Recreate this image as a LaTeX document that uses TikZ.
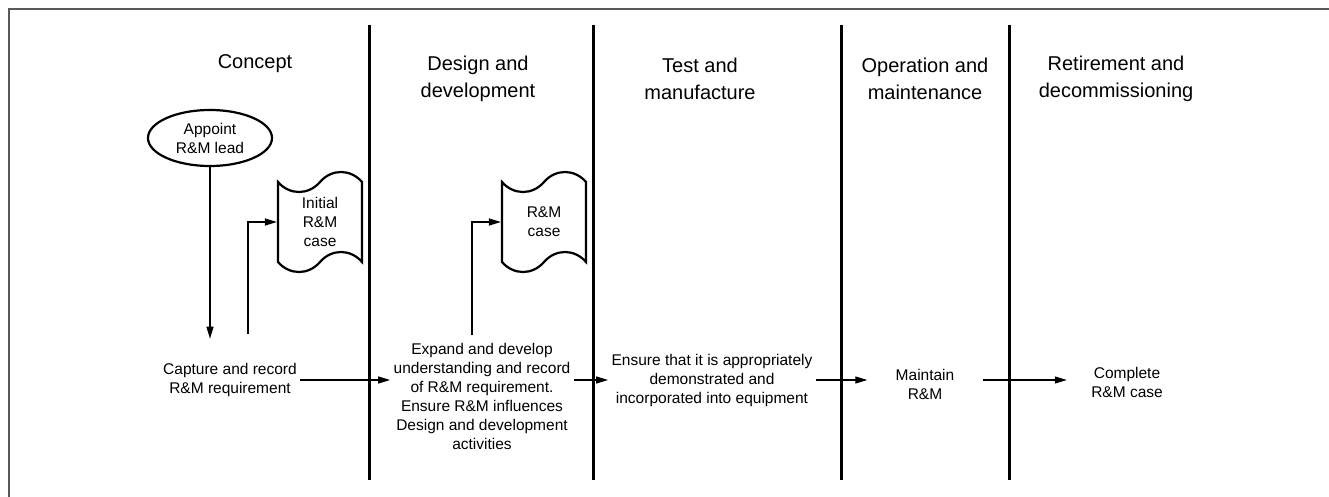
\documentclass[tikz,border=0pt]{standalone}
\usepackage{fontspec}
\setmainfont{Liberation Sans}
\usetikzlibrary{shapes.geometric,shapes.symbols,arrows.meta}

\begin{document}
\begin{tikzpicture}[x=1pt,y=-1pt]
        \tikzstyle{phase} = [align=center, font=\fontsize{20}{27}\selectfont]
        \tikzstyle{task} = [align=center, font=\fontsize{15.5}{19}\selectfont]
        \tikzstyle{doc} = [tape, draw=black, line width=2.2pt, minimum width=84pt, minimum height=100pt, tape bend height=20pt, align=center, font=\fontsize{15.5}{19}\selectfont]
        \tikzstyle{arrow} = [line width=1.3pt,-{Triangle[length=12pt,width=7pt]}]
        \tikzstyle{lane} = [line width=3pt]

                \useasboundingbox (0,0) rectangle (1329,497);
                % frame
                \draw[line width=2pt, black!65] (9,497) -- (9,9) -- (1329,9);

                % lanes
                \foreach \x in {369,593,841,1009}
                        \draw[lane] (\x,25) -- (\x,480);

                % phase headings
                \node (concept) [phase] at (255,64) {Concept};
                \node (design) [phase] at (478,78.5) {Design and\\development};
                \node (test) [phase] at (700,78.5) {Test and\\manufacture};
                \node (operation) [phase] at (925,78.5) {Operation and\\maintenance};
                \node (retire) [phase] at (1116,78.5) {Retirement and\\decommissioning};

                \node (lead) [ellipse, draw=black, line width=2.2pt, minimum width=124pt, minimum height=56pt, task] at (210,138) {Appoint\\R\&M lead};
                \node (initcase) [doc] at (320,222) {Initial\\R\&M\\case};
                \node (rmcase) [doc] at (544,222) {R\&M\\case};

                \node (capture) [task] at (230,380) {Capture and record\\R\&M requirement};
                \node (expand) [task] at (482,396) {Expand and develop\\understanding and record\\of R\&M requirement.\\Ensure R\&M influences\\Design and development\\activities};
                \node (ensure) [task] at (712,380) {Ensure that it is appropriately\\demonstrated and\\incorporated into equipment};
                \node (maintain) [task, minimum width=115pt] at (925,384) {Maintain\\R\&M};
                \node (complete) [task, minimum width=120pt] at (1127,382) {Complete\\R\&M case};

                \draw[arrow] (lead.south) -- ([yshift=21pt]lead.south |- capture.north);
                \draw[arrow] ([xshift=18pt,yshift=26pt]capture.north) |- (initcase.west);
                \draw[arrow] ([xshift=-10pt,yshift=4pt]expand.north) |- (rmcase.west);
                \draw[arrow] (capture.east) -- (capture.east -| expand.west);
                \draw[arrow] (capture.east -| expand.east) -- (capture.east -| ensure.west);
                \draw[arrow] (capture.east -| ensure.east) -- (capture.east -| maintain.west);
                \draw[arrow] (capture.east -| maintain.east) -- (capture.east -| complete.west);
\end{tikzpicture}
\end{document}
